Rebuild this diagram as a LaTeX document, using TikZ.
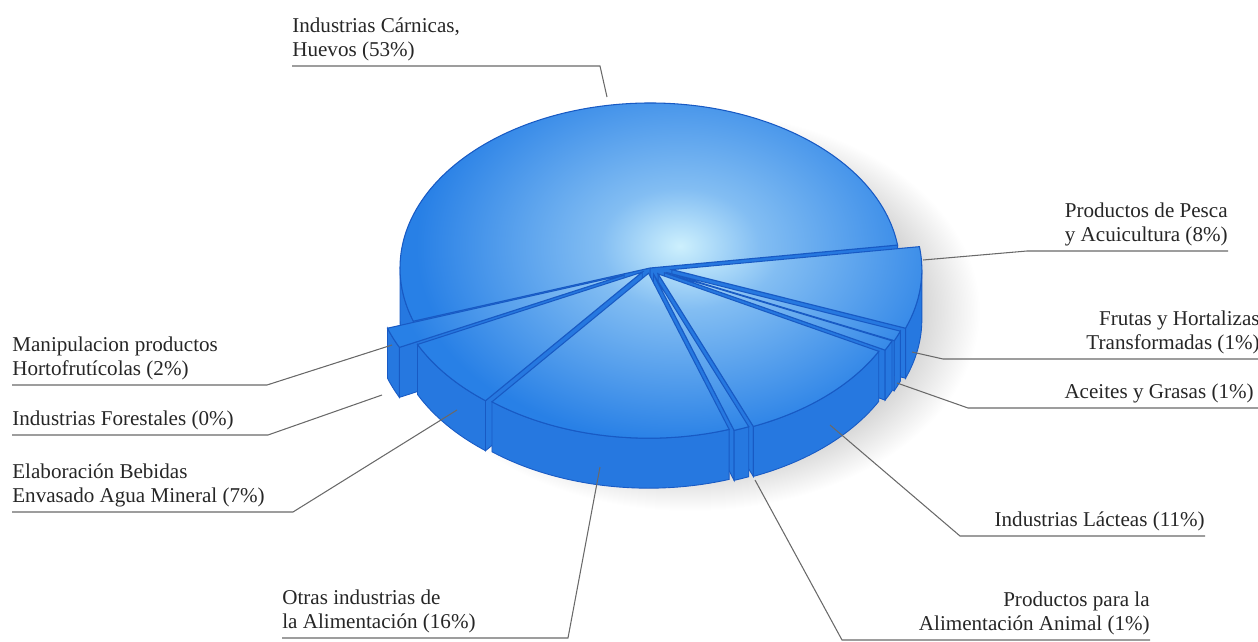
\documentclass[tikz,border=0pt]{standalone}
\usepackage{fontspec}
\setmainfont{Liberation Serif}
\usetikzlibrary{calc}
\definecolor{pieblue}{RGB}{40,128,230}
\definecolor{pieglow}{RGB}{205,240,253}
\definecolor{piewall}{RGB}{38,120,224}
\definecolor{pierim}{RGB}{24,90,196}
\definecolor{leadgray}{RGB}{105,105,105}
\pgfdeclareradialshading[pieblue,pieglow]{topglow}{\pgfpoint{0bp}{0bp}}{color(0bp)=(pieglow); color(6bp)=(pieglow!55!pieblue); color(20bp)=(pieblue); color(50bp)=(pieblue)}
\pgfdeclareradialshading{pieshadow}{\pgfpoint{0bp}{0bp}}{color(0bp)=(black!35); color(18bp)=(black!22); color(25bp)=(white); color(50bp)=(white)}

% one slice: #1 start angle, #2 end angle, #3 explode
\newcommand{\pieslice}[3]{%
  \pgfmathsetmacro{\slm}{(#1+#2)/2}
  \pgfmathsetmacro{\slx}{#3*cos(\slm)}
  \pgfmathsetmacro{\sly}{0.66*#3*sin(\slm)}
  \pgfmathtruncatemacro{\slsw}{cos(#1)>0}
  \pgfmathtruncatemacro{\slew}{cos(#2)<0}
  \pgfmathsetmacro{\slfa}{max(#1,180)}
  \pgfmathsetmacro{\slfb}{min(#2,360)}
  \pgfmathtruncatemacro{\slow}{\slfa<\slfb}
  \begin{scope}[shift={(\slx,\sly)}]
    % cut walls
    \ifnum\slsw=1
      \filldraw[wall] (650,373) -- ($(650,373)+(#1:250 and 165)$) -- ++(0,-50) -- (650,323) -- cycle;
    \fi
    \ifnum\slew=1
      \filldraw[wall] (650,373) -- ($(650,373)+(#2:250 and 165)$) -- ++(0,-50) -- (650,323) -- cycle;
    \fi
    % outer wall
    \ifnum\slow=1
      \filldraw[wall] ($(650,373)+(\slfa:250 and 165)$)
        arc[start angle=\slfa, end angle=\slfb, x radius=250, y radius=165]
        -- ++(0,-50)
        arc[start angle=\slfb, end angle=\slfa, x radius=250, y radius=165] -- cycle;
    \fi
    % top
    \begin{scope}
      \clip (650,373) -- ($(650,373)+(#1:250 and 165)$)
        arc[start angle=#1, end angle=#2, x radius=250, y radius=165] -- cycle;
      \shade[shading=topglow] (680,395) ellipse[x radius=330, y radius=240];
    \end{scope}
    \draw[rim] (650,373) -- ($(650,373)+(#1:250 and 165)$)
      arc[start angle=#1, end angle=#2, x radius=250, y radius=165] -- cycle;
  \end{scope}}

\begin{document}
\begin{tikzpicture}[x=0.2mm,y=0.2mm,
  wall/.style={fill=piewall,draw=pierim,line width=0.5pt},
  rim/.style={draw=pierim,line width=0.6pt},
  leader/.style={draw=leadgray,line width=0.6pt},
  lbl/.style={font=\fontsize{12}{13.6}\selectfont,text=black!85,
    inner xsep=0pt,inner ysep=2.5pt}]

  \useasboundingbox (0,0) rectangle (1258,641);
  % shadow under the pie
  \shade[shading=pieshadow] (690,330) ellipse[x radius=290, y radius=200];

  % slices, back to front
  \pieslice{8}{198.8}{0}
  \pieslice{339.2}{368}{22}
  \pieslice{335.6}{339.2}{18}
  \pieslice{198.8}{206}{28}
  \pieslice{332}{335.6}{16}
  \pieslice{206}{231.2}{10}
  \pieslice{292.4}{332}{12}
  \pieslice{288.8}{292.4}{10}
  \pieslice{231.2}{288.8}{8}

  % Carnicas
  \node[lbl,align=left,anchor=south west] (lCarnicas) at (292,575)
    {Industrias Cárnicas,\\Huevos (53\%)};
  \coordinate (pCarnicas) at (607,544);
  \draw[leader] (pCarnicas) -- ++(-7,31) -- (lCarnicas.south west);
  % Pesca
  \node[lbl,align=right,anchor=south east] (lPesca) at (1228,390)
    {Productos de Pesca\\y Acuicultura (8\%)};
  \coordinate (pPesca) at (923,381);
  \draw[leader] (pPesca) -- ++(104,9) -- (lPesca.south east);
  % Frutas
  \node[lbl,align=right,anchor=south east] (lFrutas) at (1260,282)
    {Frutas y Hortalizas\\Transformadas (1\%)};
  \coordinate (pFrutas) at (912,289);
  \draw[leader] (pFrutas) -- ++(31,-7) -- (lFrutas.south east);
  % Aceites
  \node[lbl,anchor=south east] (lAceites) at (1254,233) {Aceites y Grasas (1\%)};
  \coordinate (pAceites) at (897,258);
  \draw[leader] (pAceites) -- ++(71,-25) -- (lAceites.south east) -- ++(4,0);
  % Lacteas
  \node[lbl,anchor=south east] (lLacteas) at (1205,105) {Industrias Lácteas (11\%)};
  \coordinate (pLacteas) at (830,216);
  \draw[leader] (pLacteas) -- ++(130,-111) -- (lLacteas.south east);
  % Animal
  \node[lbl,align=right,anchor=south east] (lAnimal) at (1150,1)
    {Productos para la\\Alimentación Animal (1\%)};
  \coordinate (pAnimal) at (755,161);
  \draw[leader] (pAnimal) -- ++(87,-160) -- (lAnimal.south east);
  % Otras
  \node[lbl,align=left,anchor=south west] (lOtras) at (282,3)
    {Otras industrias de\\la Alimentación (16\%)};
  \coordinate (pOtras) at (600,174);
  \draw[leader] (pOtras) -- ++(-32,-171) -- (lOtras.south west);
  % Manipulacion
  \node[lbl,align=left,anchor=south west] (lManip) at (12,256)
    {Manipulacion productos\\Hortofrutícolas (2\%)};
  \coordinate (pManip) at (392,296);
  \draw[leader] (pManip) -- ++(-125,-40) -- (lManip.south west);
  % Forestales
  \node[lbl,anchor=south west] (lForest) at (12,206) {Industrias Forestales (0\%)};
  \coordinate (pForest) at (382,246);
  \draw[leader] (pForest) -- ++(-114,-40) -- (lForest.south west);
  % Bebidas
  \node[lbl,align=left,anchor=south west] (lBebidas) at (12,129)
    {Elaboración Bebidas\\Envasado Agua Mineral (7\%)};
  \coordinate (pBebidas) at (457,231);
  \draw[leader] (pBebidas) -- ++(-164,-102) -- (lBebidas.south west);
\end{tikzpicture}
\end{document}
